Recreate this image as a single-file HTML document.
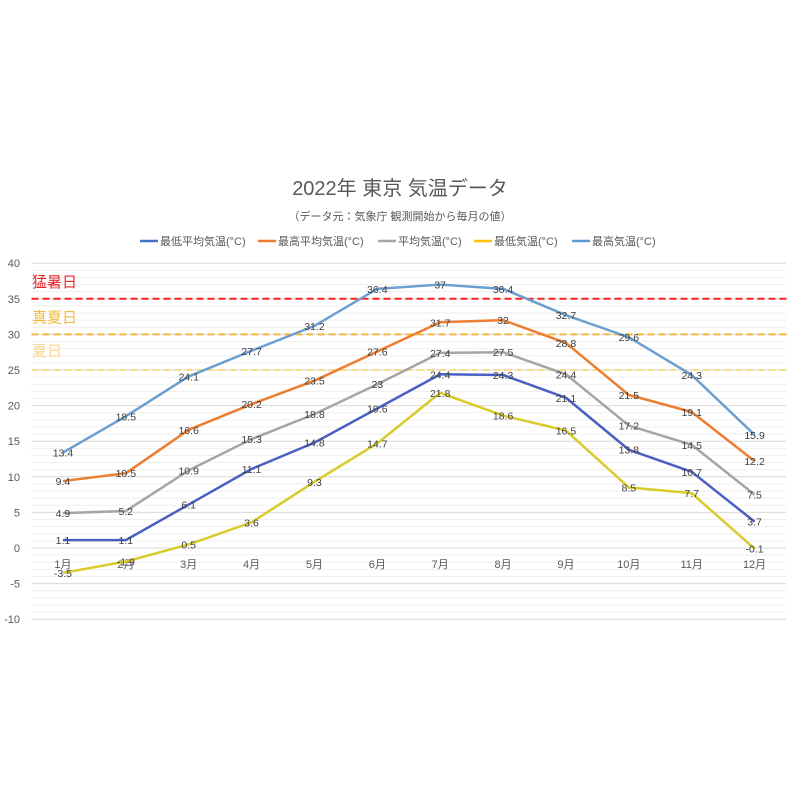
<!DOCTYPE html>
<html><head><meta charset="utf-8"><style>
body{margin:0;background:#fff;}
svg{display:block;font-family:"Liberation Sans","Noto Sans CJK JP",sans-serif;}
</style></head><body>
<svg id="chart" width="800" height="800" viewBox="0 0 800 800">
<text x="400" y="195" text-anchor="middle" font-size="20" fill="#595959">2022年 東京 気温データ</text>
<text x="400" y="220" text-anchor="middle" font-size="11" fill="#595959">（データ元：気象庁 観測開始から毎月の値）</text>
<g id="grid"></g>
<g id="yaxis"></g>
<g id="xaxis"></g>
<g id="refs"></g>
<g id="series"></g>
<g id="legend"></g>
</svg>
<script>
const months=["1月","2月","3月","4月","5月","6月","7月","8月","9月","10月","11月","12月"];
const minAvg=[1.1,1.1,6.1,11.1,14.8,19.6,24.4,24.3,21.1,13.8,10.7,3.7];
const maxAvg=[9.4,10.5,16.6,20.2,23.5,27.6,31.7,32,28.8,21.5,19.1,12.2];
const avgT=[4.9,5.2,10.9,15.3,18.8,23,27.4,27.5,24.4,17.2,14.5,7.5];
const minT=[-3.5,-1.9,0.5,3.6,9.3,14.7,21.8,18.6,16.5,8.5,7.7,-0.1];
const maxT=[13.4,18.5,24.1,27.7,31.2,36.4,37,36.4,32.7,29.6,24.3,15.9];
const yTicks=[40,35,30,25,20,15,10,5,0,-5,-10];
const refValues=[35,30,25];
const refLabels=["猛暑日","真夏日","夏日"];

const NS="http://www.w3.org/2000/svg";
const L=31.5,R=786,Y0=548,PX=7.12;
const bw=(R-L)/months.length;
const x=i=>L+bw*(i+0.5);
const y=v=>Y0-v*PX;
function mk(tag,attrs,parent,txt){const e=document.createElementNS(NS,tag);for(const k in attrs)e.setAttribute(k,attrs[k]);if(txt!==undefined)e.textContent=txt;parent.appendChild(e);return e;}
const grid=document.getElementById('grid'),ya=document.getElementById('yaxis'),xa=document.getElementById('xaxis'),refs=document.getElementById('refs'),ser=document.getElementById('series'),leg=document.getElementById('legend');
for(let v=-10;v<=40;v++){
  const ln=mk('line',{x1:L,x2:R,y1:y(v),y2:y(v),stroke:v%5===0?'#d9d9d9':'#efefef','stroke-width':1},grid);
  
  
}
yTicks.forEach(v=>{
  const t=mk('text',{x:20,y:y(v)+4,'text-anchor':'end','font-size':11,fill:'#595959'},ya,String(v));
  
  
});
months.forEach((m,i)=>{
  const t=mk('text',{x:x(i),y:y(0)+20,'text-anchor':'middle','font-size':11,fill:'#595959'},xa,m);
  
  
});
const refColors=['#ff2020','#f6b73c','#fbdc8c'];
const refLabelColors=['#e8262b','#f3bb3d','#f8d88a'];
refValues.forEach((v,i)=>{
  const ln=mk('line',{x1:L,x2:790,y1:y(v),y2:y(v),stroke:refColors[i],'stroke-width':2,'stroke-dasharray':'7,4'},refs);
  
  
  const t=mk('text',{x:32,y:y(v)-12+(i===2?-2:0),'font-size':15,fill:refLabelColors[i]},refs,refLabels[i]);
  
  
});
const seriesDefs=[
 {name:'最低平均気温(°C)',data:minAvg,color:'#4a5fc1',leg:'#4472c4'},
 {name:'最高平均気温(°C)',data:maxAvg,color:'#ed7d31',leg:'#ed7d31'},
 {name:'平均気温(°C)',data:avgT,color:'#a5a5a5',leg:'#a5a5a5'},
 {name:'最低気温(°C)',data:minT,color:'#d9cc2a',leg:'#ffc000'},
 {name:'最高気温(°C)',data:maxT,color:'#6a9fd0',leg:'#5b9bd5'}
];
seriesDefs.forEach(s=>{
  const g=mk('g',{},ser);
  
  
  const p=mk('polyline',{points:s.data.map((v,i)=>x(i)+','+y(v)).join(' '),fill:'none',stroke:s.color,'stroke-width':2.5,'stroke-linejoin':'round'},g);
  
  
  s.data.forEach((v,i)=>{
    const t=mk('text',{x:x(i),y:y(v)+4,'text-anchor':'middle','font-size':10.5,fill:'#404040'},g,String(v));
    
    
  });
});
const legX=[140,258,378,474,572];
seriesDefs.forEach((s,i)=>{
  const g=mk('g',{},leg);
  
  
  mk('line',{x1:legX[i],x2:legX[i]+18,y1:241,y2:241,stroke:s.leg,'stroke-width':2.5},g);
  mk('text',{x:legX[i]+20,y:245,'font-size':11,fill:'#595959'},g,s.name);
});
</script>
</body></html>
